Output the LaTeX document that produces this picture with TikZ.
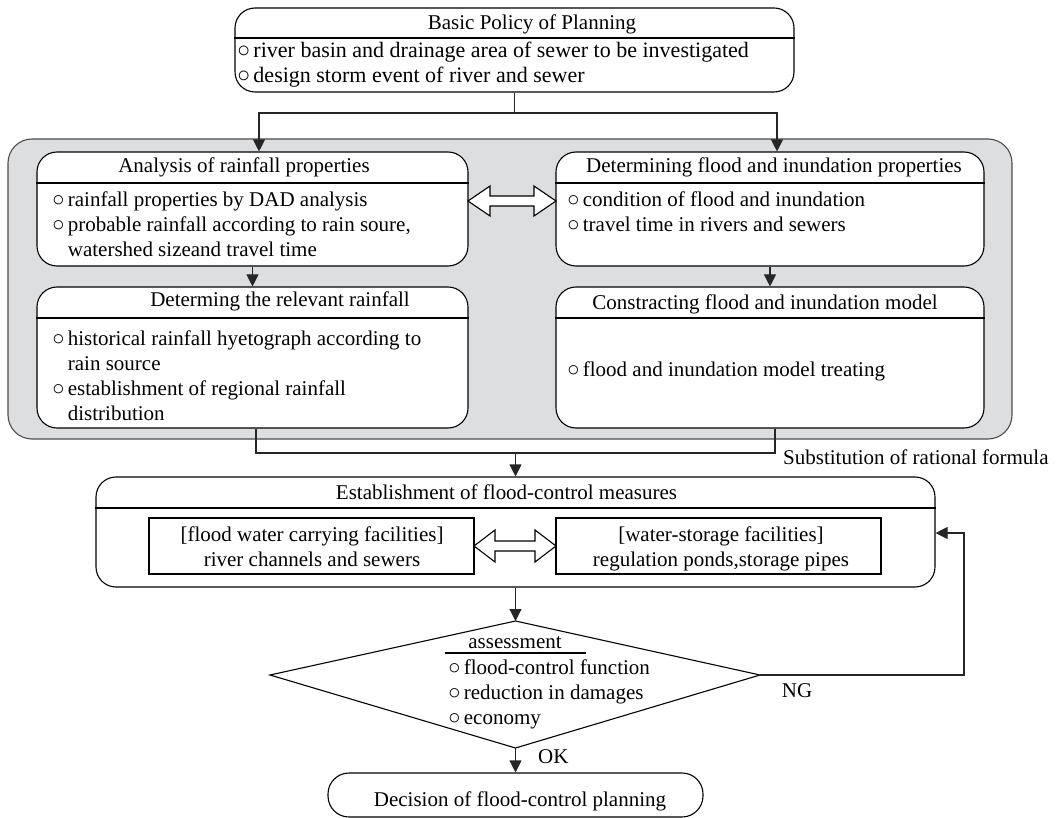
\documentclass[tikz,border=0pt]{standalone}
\usepackage{fontspec}
\setmainfont{Liberation Serif}
\usetikzlibrary{arrows.meta}
\definecolor{panel}{RGB}{221,222,224}
\newcommand{\fs}{\fontsize{21}{25}\selectfont}
\newcommand{\fsb}{\fontsize{22}{25}\selectfont}
\newcommand{\bu}{○\kern3pt}
\newcommand{\nb}{\hphantom{○\kern3pt}}
\newcommand{\hollowdbl}[5]{%
  \draw[hollow] (#1,#3) -- ++(#4,-#5) -- ++(0,{#5-5}) -- ({#2-#4},{#3-5}) -- ++(0,{5-#5})
   -- (#2,#3) -- ++(-#4,#5) -- ++(0,{5-#5}) -- ({#1+#4},{#3+5}) -- ++(0,{#5-5}) -- cycle;}
\begin{document}
\begin{tikzpicture}[x=1pt,y=-1pt,
  rbox/.style={draw, rounded corners=20pt, line width=1.1pt, fill=white, inner sep=0pt},
  sqbox/.style={draw, line width=1.1pt, fill=white, inner sep=0pt},
  txt/.style={inner sep=0pt, font=\fs},
  conn/.style={line width=1.1pt, draw=black!85},
  arr/.style={conn, -{Triangle[length=12pt,width=12pt]}},
  hollow/.style={draw, fill=white, line width=1.1pt, line join=miter},
  divider/.style={line width=1.1pt}]
\useasboundingbox (0,0) rectangle (1063,818);

% gray panel
\node[draw=black!70, fill=panel, rounded corners=24pt, line width=1.1pt, inner sep=0pt,
      minimum width=1004, minimum height=300] (panel) at (510,289) {};

% boxes
\node[rbox, minimum width=559, minimum height=84] (tb) at (514.5,50) {};
\draw[divider] (tb.west |- 0,38) -- (tb.east |- 0,38);
\node[rbox, minimum width=431, minimum height=114] (an) at (252.5,209) {};
\draw[divider] (an.west |- 0,183) -- (an.east |- 0,183);
\node[rbox, minimum width=431, minimum height=141] (dr) at (252.5,357.5) {};
\draw[divider] (dr.west |- 0,318) -- (dr.east |- 0,318);
\node[rbox, minimum width=428, minimum height=114] (df) at (770,209) {};
\draw[divider] (df.west |- 0,183) -- (df.east |- 0,183);
\node[rbox, minimum width=428, minimum height=141] (cf) at (770,357.5) {};
\draw[divider] (cf.west |- 0,318) -- (cf.east |- 0,318);
\node[rbox, minimum width=839, minimum height=110] (est) at (515.5,532) {};
\draw[divider] (est.west |- 0,508) -- (est.east |- 0,508);
\node[sqbox, minimum width=325, minimum height=56] (fl) at (311.5,546) {};
\node[sqbox, minimum width=325, minimum height=56] (ws) at (718.5,546) {};
\node[rbox, rounded corners=21pt, minimum width=375, minimum height=44] (dec) at (515.5,795) {};

% texts
\node[txt, anchor=base] (tbt) at (532,30) {Basic Policy of Planning};
\node[txt, font=\fsb, anchor=base west] (tbl) at (237,58) {\begin{tabular}[t]{@{}l@{}}\bu river basin and drainage area of sewer to be investigated\\ \bu design storm event of river and sewer\end{tabular}};
\node[txt, anchor=base] (ant) at (244,173) {Analysis of rainfall properties};
\node[txt, anchor=base west] (anl) at (52,207) {\begin{tabular}[t]{@{}l@{}}\bu rainfall properties by DAD analysis\\ \bu probable rainfall according to rain soure,\\ \nb watershed sizeand travel time\end{tabular}};
\node[txt, anchor=base] (drt) at (280,307) {Determing the relevant rainfall};
\node[txt, anchor=base west] (drl) at (52,345) {\begin{tabular}[t]{@{}l@{}}\bu historical rainfall hyetograph according to\\ \nb rain source\\ \bu establishment of regional rainfall\\ \nb distribution\end{tabular}};
\node[txt, anchor=base] (dft) at (774,173) {Determining flood and inundation properties};
\node[txt, anchor=base west] (dfl) at (567,207) {\begin{tabular}[t]{@{}l@{}}\bu condition of flood and inundation\\ \bu travel time in rivers and sewers\end{tabular}};
\node[txt, anchor=base] (cft) at (765,310) {Constracting flood and inundation model};
\node[txt, anchor=base west] (cfl) at (567,377) {\bu flood and inundation model treating};
\node[txt, anchor=base] (estt) at (506.5,499) {Establishment of flood-control measures};
\node[txt, anchor=base] (flt) at (312,541) {\begin{tabular}[t]{@{}c@{}}[flood water carrying facilities]\\ river channels and sewers\end{tabular}};
\node[txt, anchor=base] (wst) at (721,541) {\begin{tabular}[t]{@{}c@{}}[water-storage facilities]\\ regulation ponds,storage pipes\end{tabular}};
\node[txt, anchor=base] (dect) at (520,806) {Decision of flood-control planning};
\node[txt, anchor=base west] (sub) at (783,464) {Substitution of rational formula};

% double hollow arrows
\hollowdbl{468}{556}{201}{22}{15}
\hollowdbl{474}{556}{546}{21}{16}

% connectors
\coordinate (j1) at (514.5,113);
\draw[conn] (tb.south) -- (j1);
\draw[arr] (j1) -| ([xshift=6.5pt]an.north);
\draw[arr] (j1) -| ([xshift=7pt]df.north);
\draw[arr] (an.south) -- (dr.north);
\draw[arr] (df.south) -- (cf.north);
\coordinate (j2) at (515.5,453);
\draw[conn] ([xshift=3.5pt]dr.south) |- (j2);
\draw[conn] ([xshift=5pt]cf.south) |- (j2);
\draw[arr] (j2) -- (est.north);

% diamond
\coordinate (dT) at (515.5,621);
\coordinate (dR) at (760,675);
\coordinate (dB) at (515.5,748);
\coordinate (dL) at (270,675);
\draw[line width=1.1pt, line join=miter] (dT) -- (dR) -- (dB) -- (dL) -- cycle;
\node[txt, anchor=base] (ass) at (515,648) {assessment};
\draw[line width=2pt] (445,653) -- (586,653);
\node[txt, anchor=base west] (assl) at (448,674) {\begin{tabular}[t]{@{}l@{}}\bu flood-control function\\ \bu reduction in damages\\ \bu economy\end{tabular}};

\draw[arr] (est.south) -- (dT);
\draw[arr] (dB) -- (dec.north);
\node[txt, anchor=base west] (ok) at (538,763) {OK};
\coordinate (fb1) at (964,675);
\coordinate (fb2) at (964,533);
\draw[arr] (dR) -- (fb1) -- (fb2) -- (est.east |- fb2);
\node[txt, anchor=base] (ng) at (797,697) {NG};
\end{tikzpicture}
\end{document}
